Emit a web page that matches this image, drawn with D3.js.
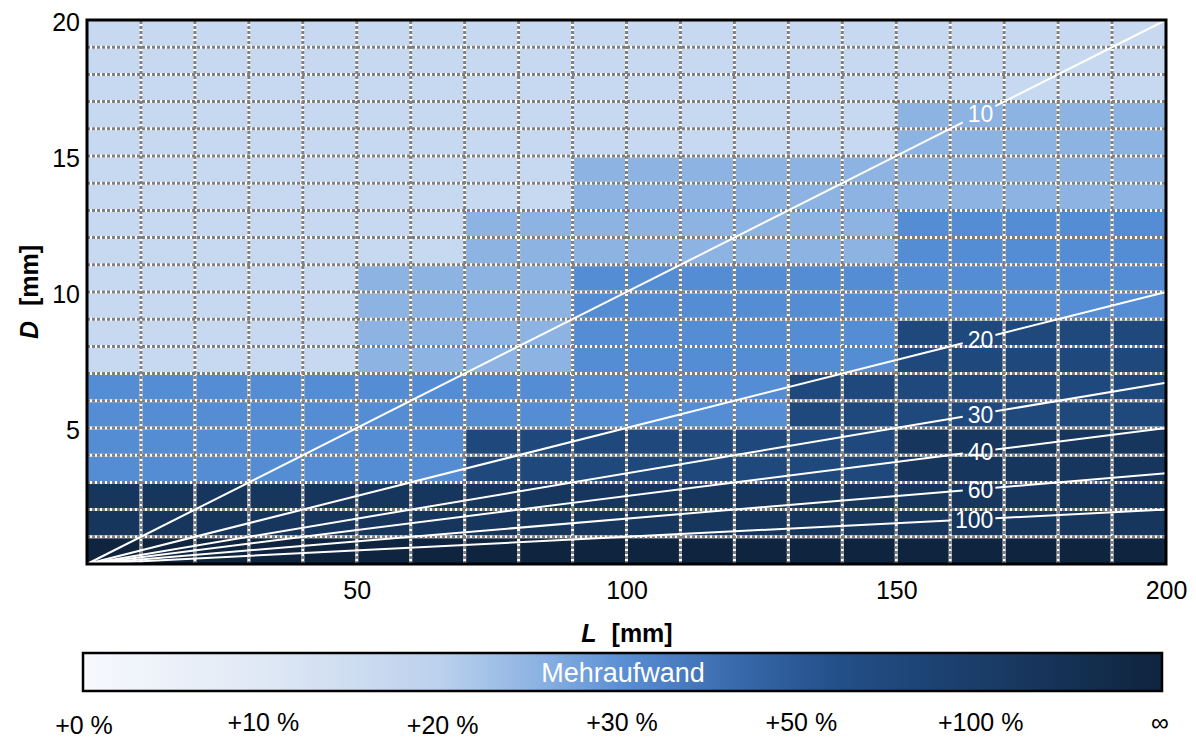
<!DOCTYPE html>
<html>
    <head>
        <meta charset="utf-8">
        <title>Mehraufwand L / D</title>
        <script type="text/javascript" src="https://d3js.org/d3.v7.min.js"></script>
        <style>
            body { margin: 0; background: #fff; }
            text { font-family: "Liberation Sans", Arial, sans-serif; }
        </style>
    </head>
    <body>
        <div id="container"></div>
        <script>
        //----------------------------DATA------------------------------//
        // column start L [mm], row start D [mm] (top row first)
        const lBins = [0, 10, 20, 30, 40, 50, 60, 70, 80, 90, 100, 110, 120, 130, 140, 150, 160, 170, 180, 190];
        const dBins = [19, 18, 17, 16, 15, 14, 13, 12, 11, 10, 9, 8, 7, 6, 5, 4, 3, 2, 1, 0];
        // Mehraufwand class per cell: 0 = +10 %, 1 = +20 %, 2 = +30 %, 3 = +50 %, 4 = +100 %, 5 = ∞
        const levelGrid = [
            [0,0,0,0,0,0,0,0,0,0,0,0,0,0,0,0,0,0,0,0],
            [0,0,0,0,0,0,0,0,0,0,0,0,0,0,0,0,0,0,0,0],
            [0,0,0,0,0,0,0,0,0,0,0,0,0,0,0,0,0,0,0,0],
            [0,0,0,0,0,0,0,0,0,0,0,0,0,0,0,1,1,1,1,1],
            [0,0,0,0,0,0,0,0,0,0,0,0,0,0,0,1,1,1,1,1],
            [0,0,0,0,0,0,0,0,0,1,1,1,1,1,1,1,1,1,1,1],
            [0,0,0,0,0,0,0,0,0,1,1,1,1,1,1,1,1,1,1,1],
            [0,0,0,0,0,0,0,1,1,1,1,1,1,1,1,2,2,2,2,2],
            [0,0,0,0,0,0,0,1,1,1,1,1,1,1,1,2,2,2,2,2],
            [0,0,0,0,0,1,1,1,1,2,2,2,2,2,2,2,2,2,2,2],
            [0,0,0,0,0,1,1,1,1,2,2,2,2,2,2,2,2,2,2,2],
            [0,0,0,0,0,1,1,1,1,2,2,2,2,2,2,3,3,3,3,3],
            [0,0,0,0,0,1,1,1,1,2,2,2,2,2,2,3,3,3,3,3],
            [2,2,2,2,2,2,2,2,2,2,2,2,2,3,3,3,3,3,3,3],
            [2,2,2,2,2,2,2,2,2,2,2,2,2,3,3,3,3,3,3,3],
            [2,2,2,2,2,2,2,3,3,3,3,3,3,3,3,4,4,4,4,4],
            [2,2,2,2,2,2,2,3,3,3,3,3,3,3,3,4,4,4,4,4],
            [4,4,4,4,4,4,4,4,4,4,4,4,4,4,4,4,4,4,4,4],
            [4,4,4,4,4,4,4,4,4,4,4,4,4,4,4,4,4,4,4,4],
            [5,5,5,5,5,5,5,5,5,5,5,5,5,5,5,5,5,5,5,5]
        ];
        // slenderness lines L/D
        const ratios = [10, 20, 30, 40, 60, 100];
        const xTicks = [50, 100, 150, 200];
        const yTicks = [5, 10, 15, 20];
        const barLabels = ["+0 %", "+10 %", "+20 %", "+30 %", "+50 %", "+100 %", "\u221e"];

        //----------------------------SVG-------------------------------//
        const width = 1196;
        const height = 738;
        const svg = d3.select("div#container").append("svg")
            .attr("width", width)
            .attr("height", height);

        const levelColors = ["#c6d9f1", "#8db3e2", "#548dd4", "#1f497d", "#17365d", "#0f243e"];
        const color = d3.scaleOrdinal().domain([0, 1, 2, 3, 4, 5]).range(levelColors);

        //---------------------------SCALES-----------------------------//
        const xScale = d3.scaleLinear().domain([0, 200]).range([87, 1166]);
        const yScale = d3.scaleLinear().domain([0, 20]).range([564, 20]);

        //----------------------------CELLS-----------------------------//
        const cells = [];
        levelGrid.forEach(function(row, r) {
            row.forEach(function(v, c) {
                cells.push({ l: lBins[c], d: dBins[r], level: v });
            });
        });

        svg.append("g")
            .selectAll("rect")
            .data(cells)
            .enter()
            .append("rect")
            .attr("x", function(d) { return xScale(d.l); })
            .attr("y", function(d) { return yScale(d.d + 1); })
            .attr("width", function(d) { return xScale(d.l + 10) - xScale(d.l); })
            .attr("height", function(d) { return yScale(d.d) - yScale(d.d + 1); })
            .attr("fill", function(d) { return color(d.level); });

        //----------------------------GRID------------------------------//
        const grid = svg.append("g");
        const vLines = lBins.filter(function(v) { return v > 0; });
        const hLines = dBins.filter(function(v) { return v > 0; });

        ["#ffffff", "#808080"].forEach(function(stroke, i) {
            const g = grid.append("g")
                .attr("stroke", stroke)
                .attr("stroke-width", 3)
                .attr("stroke-dasharray", i ? "3,2" : null);
            g.selectAll("line.v")
                .data(vLines)
                .enter()
                .append("line")
                .attr("x1", function(d) { return xScale(d); })
                .attr("x2", function(d) { return xScale(d); })
                .attr("y1", yScale(0))
                .attr("y2", yScale(20));
            g.selectAll("line.h")
                .data(hLines)
                .enter()
                .append("line")
                .attr("x1", xScale(0))
                .attr("x2", xScale(200))
                .attr("y1", function(d) { return yScale(d); })
                .attr("y2", function(d) { return yScale(d); });
        });

        //---------------------------RATIOS-----------------------------//
        const ratioG = svg.append("g");
        const labelEnd = 168;
        ratios.forEach(function(k) {
            const label = ratioG.append("text")
                .attr("x", xScale(labelEnd))
                .attr("text-anchor", "end")
                .attr("dominant-baseline", "central")
                .attr("font-size", 23)
                .attr("fill", "#fff")
                .text(k);
            const box = label.node().getBBox();
            const cx = box.x + box.width / 2;
            label.attr("y", yScale(xScale.invert(cx) / k) + 1);
            const gapA = xScale.invert(box.x - 5);
            const gapB = xScale.invert(box.x + box.width + 2);
            [[0, gapA], [gapB, 200]].forEach(function(seg) {
                ratioG.append("line")
                    .attr("x1", xScale(seg[0]))
                    .attr("y1", yScale(seg[0] / k))
                    .attr("x2", xScale(seg[1]))
                    .attr("y2", yScale(seg[1] / k))
                    .attr("stroke", "#fff")
                    .attr("stroke-width", 2);
            });
        });

        //----------------------------FRAME-----------------------------//
        svg.append("rect")
            .attr("x", xScale(0))
            .attr("y", yScale(20))
            .attr("width", xScale(200) - xScale(0))
            .attr("height", yScale(0) - yScale(20))
            .attr("fill", "none")
            .attr("stroke", "#000")
            .attr("stroke-width", 3);

        //-----------------------------AXES-----------------------------//
        const xAxis = svg.append("g")
            .attr("transform", "translate(0," + yScale(0) + ")")
            .call(d3.axisBottom(xScale).tickValues(xTicks).tickSize(0).tickPadding(17));
        const yAxis = svg.append("g")
            .attr("transform", "translate(" + xScale(0) + ",0)")
            .call(d3.axisLeft(yScale).tickValues(yTicks).tickSize(0).tickPadding(7));
        [xAxis, yAxis].forEach(function(a) {
            a.select(".domain").remove();
            a.attr("font-size", 25)
                .attr("font-family", "Liberation Sans, Arial, sans-serif");
            a.selectAll("text").attr("fill", "#000");
        });
        yAxis.selectAll("text").attr("dy", "0.4em");

        const xTitle = svg.append("text")
            .attr("x", 627)
            .attr("y", 642)
            .attr("text-anchor", "middle")
            .attr("font-size", 25)
            .attr("font-weight", "bold");
        xTitle.append("tspan").attr("font-style", "italic").text("L");
        xTitle.append("tspan").attr("dx", 8).text(" [mm]");

        const yTitle = svg.append("text")
            .attr("transform", "translate(38," + yScale(10) + ") rotate(-90)")
            .attr("text-anchor", "middle")
            .attr("font-size", 25)
            .attr("font-weight", "bold");
        yTitle.append("tspan").attr("font-style", "italic").text("D");
        yTitle.append("tspan").attr("dx", 8).text(" [mm]");

        //---------------------------COLORBAR---------------------------//
        const grad = svg.append("defs").append("linearGradient")
            .attr("id", "aufwand")
            .attr("x1", "0%").attr("x2", "100%")
            .attr("y1", "0%").attr("y2", "0%");
        const stops = [
            [0, "#f7f9fd"], [0.17, "#dfe8f5"], [0.33, "#bcd1ed"], [0.42, "#8db3e2"],
            [0.5, "#5a8fd5"], [0.6, "#3a6bad"], [0.7, "#234f88"], [0.85, "#193a64"], [1, "#0f243e"]
        ];
        grad.selectAll("stop")
            .data(stops)
            .enter()
            .append("stop")
            .attr("offset", function(d) { return d[0]; })
            .attr("stop-color", function(d) { return d[1]; });

        svg.append("rect")
            .attr("x", 83)
            .attr("y", 653)
            .attr("width", 1079)
            .attr("height", 38)
            .attr("fill", "url(#aufwand)")
            .attr("stroke", "#000")
            .attr("stroke-width", 2.5);

        svg.append("text")
            .attr("x", 623)
            .attr("y", 682)
            .attr("text-anchor", "middle")
            .attr("font-size", 27)
            .attr("fill", "#fff")
            .text("Mehraufwand");

        const barX = d3.scalePoint().domain(barLabels).range([84, 1160]);
        svg.append("g")
            .selectAll("text")
            .data(barLabels)
            .enter()
            .append("text")
            .attr("x", function(d) { return barX(d); })
            .attr("y", function(d, i) { return (i === 0 || i === 2) ? 734 : 731; })
            .attr("text-anchor", "middle")
            .attr("font-size", 25)
            .attr("fill", "#000")
            .text(function(d) { return d; });
        </script>
    </body>
</html>
